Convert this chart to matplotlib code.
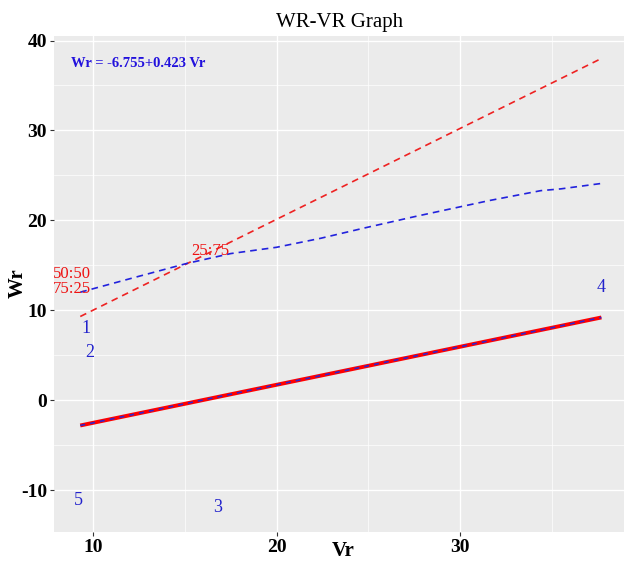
import matplotlib
matplotlib.use('Agg')
import matplotlib.pyplot as plt
from matplotlib.ticker import MultipleLocator

plt.rcParams['font.family'] = ['Liberation Serif', 'DejaVu Serif']
plt.rcParams['axes.unicode_minus'] = False

# regression fit Wr = -6.755 + 0.423 Vr
reg_x = [9.3, 37.7]
reg_y = [-6.755 + 0.423 * v for v in reg_x]

# Wr = Vr reference line
ref_x = [9.3, 37.7]
ref_y = [9.3, 38.0]

# blue dashed curve
curve_x = [9.3, 12.0, 15.1, 17.5, 20.0, 22.4, 24.9, 27.5, 30.0, 31.6, 34.4, 35.5, 37.7]
curve_y = [12.0, 13.5, 15.2, 16.3, 17.0, 18.0, 19.2, 20.4, 21.5, 22.2, 23.3, 23.5, 24.1]

# numbered points
pt_labels = ['1', '2', '3', '4', '5']
pt_x = [9.6, 9.8, 16.8, 37.7, 9.2]
pt_y = [8.0, 5.3, -12.0, 12.5, -11.2]

# ratio labels
ratio_labels = ['50:50', '75:25', '25:75']
ratio_x = [8.85, 8.85, 16.4]
ratio_y = [14.0, 12.4, 16.6]

fig = plt.figure(figsize=(6.26, 5.61), dpi=100)
ax = fig.add_axes([0.0863, 0.0517, 0.9107, 0.8841])
ax.set_facecolor('#EBEBEB')
for s in ax.spines.values():
    s.set_visible(False)

ax.set_xlim(7.87, 38.94)
ax.set_ylim(-14.67, 40.5)
ax.xaxis.set_major_locator(MultipleLocator(10))
ax.xaxis.set_minor_locator(MultipleLocator(5))
ax.yaxis.set_major_locator(MultipleLocator(10))
ax.yaxis.set_minor_locator(MultipleLocator(5))
ax.grid(which='major', color='white', linewidth=1.0)
ax.grid(which='minor', color='white', linewidth=0.5)
ax.set_axisbelow(True)
ax.tick_params(which='major', length=3, color='#333333', labelsize=14, pad=2)
ax.tick_params(which='minor', length=0)
for lab in ax.get_xticklabels() + ax.get_yticklabels():
    lab.set_color('black')
    lab.set_fontweight('bold')

ax.plot(reg_x, reg_y, color='red', linewidth=2.8, solid_capstyle='butt')
ax.plot(reg_x, reg_y, color='#3322cc', linewidth=1.2, linestyle=(0, (3, 3)))
ax.plot(ref_x, ref_y, color='#ee2222', linewidth=1.2, linestyle=(0, (4, 3)))
ax.plot(curve_x, curve_y, color='#2222dd', linewidth=1.2, linestyle=(0, (4, 3)))

for t, x, y in zip(pt_labels, pt_x, pt_y):
    ax.text(x, y, t, color='#2222cc', fontsize=13, ha='center', va='center')
for t, x, y in zip(ratio_labels, ratio_x, ratio_y):
    ax.text(x, y, t, color='#ee1111', fontsize=12, ha='center', va='center')

ax.text(0.03, 0.945, 'Wr = -6.755+0.423 Vr', transform=ax.transAxes, color='#2211dd',
        fontsize=10.5, fontweight='bold', ha='left', va='center')

fig.text(0.543, 1 - 22 / 561, 'WR-VR Graph', fontsize=15, ha='center', va='center')
fig.text(0.548, 1 - 551 / 561, 'Vr', fontsize=15, fontweight='bold', ha='center', va='center')
fig.text(0.029, 1 - 283 / 561, 'Wr', fontsize=15, fontweight='bold', ha='center', va='center',
         rotation=90)

fig.savefig('out.png', dpi=100)
